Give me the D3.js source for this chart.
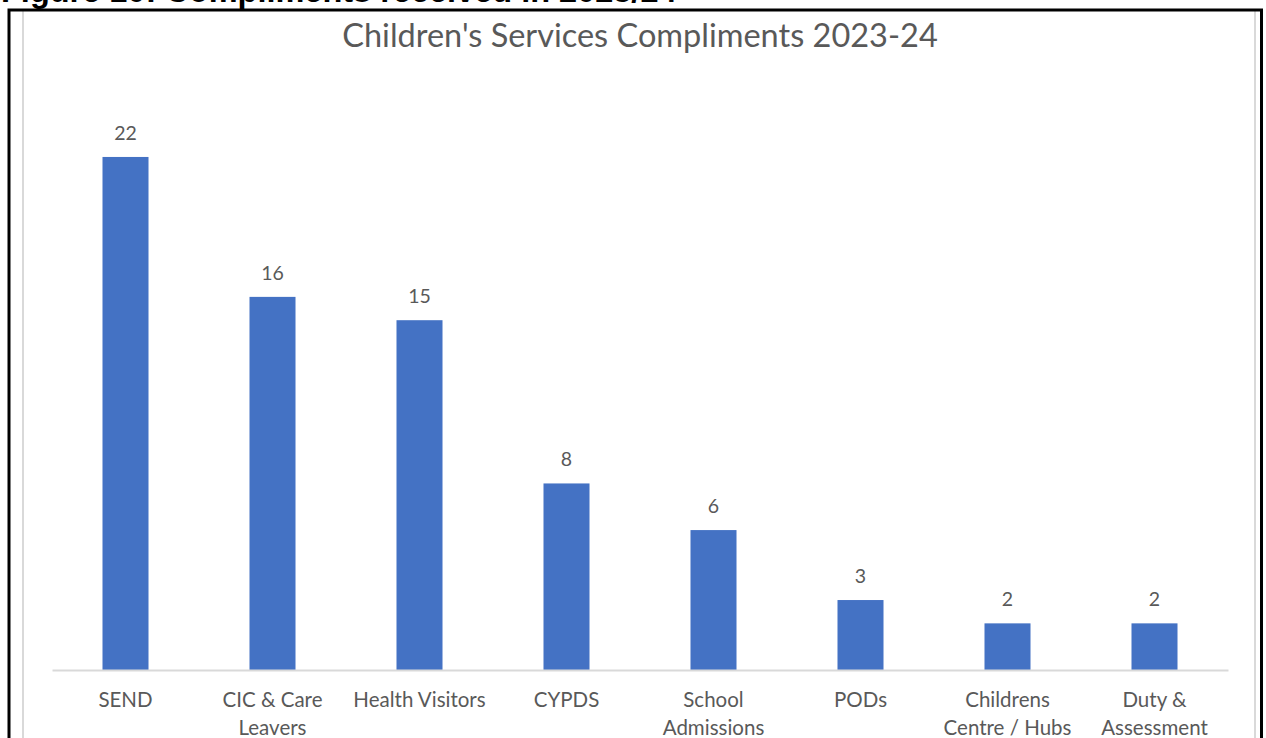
<!DOCTYPE html>
<html>
<head>
<meta charset="utf-8">
<script src="https://cdn.jsdelivr.net/npm/d3@7"></script>
<style>
  html, body { margin: 0; padding: 0; background: #ffffff; }
  svg { display: block; }
</style>
</head>
<body>
<svg id="chart" width="1266" height="738"></svg>
<script>
// ---- data ----
const heading = "Figure 10: Compliments received in 2023/24";
const chartTitle = "Children's Services Compliments 2023-24";
const categories = ["SEND", "CIC & Care Leavers", "Health Visitors", "CYPDS",
  "School Admissions", "PODs", "Childrens Centre / Hubs", "Duty & Assessment"];
const tickLabels = [["SEND"], ["CIC & Care", "Leavers"], ["Health Visitors"], ["CYPDS"],
  ["School", "Admissions"], ["PODs"], ["Childrens", "Centre / Hubs"], ["Duty &", "Assessment"]];
const values = [22, 16, 15, 8, 6, 3, 2, 2];
const yMax = 25;

// ---- drawing ----
const svg = d3.select("#chart");
const W = 1266, H = 738;
const font = "Lato, 'Open Sans', sans-serif";
const textColor = "#595959";

svg.append("rect").attr("width", W).attr("height", H).attr("fill", "#ffffff");

// heading (cut off at top in the reference)
svg.append("text")
  .attr("x", 1).attr("y", 1.5)
  .attr("font-family", "'Liberation Sans', Arial, sans-serif")
  .attr("font-weight", "bold")
  .attr("font-size", 32.5)
  .attr("fill", "#000")
  .text(heading);

// chart area border (light gray)
svg.append("rect")
  .attr("x", 23).attr("y", 10).attr("width", 1232).attr("height", 740)
  .attr("fill", "#fff").attr("stroke", "#D9D9D9").attr("stroke-width", 2);

// outer black frame
svg.append("path")
  .attr("d", "M9,740 V10 H1261.5 V740")
  .attr("fill", "none").attr("stroke", "#000").attr("stroke-width", 3);

const x = d3.scaleBand().domain(categories).range([52, 1228])
  .paddingInner(0.687).paddingOuter(0.3435);
const y = d3.scaleLinear().domain([0, yMax]).range([670, 670 - 25 * 23.32]);

// title
svg.append("text")
  .attr("x", 640).attr("y", 47)
  .attr("text-anchor", "middle")
  .attr("font-family", font)
  .attr("font-size", 32.5)
  .attr("fill", textColor)
  .text(chartTitle);

// bars
svg.append("g").selectAll("rect")
  .data(values)
  .join("rect")
  .attr("x", (d, i) => x(categories[i]))
  .attr("y", d => y(d))
  .attr("width", x.bandwidth())
  .attr("height", d => y(0) - y(d))
  .attr("fill", "#4472C4");

// data labels
svg.append("g").selectAll("text")
  .data(values)
  .join("text")
  .attr("x", (d, i) => x(categories[i]) + x.bandwidth() / 2)
  .attr("y", d => y(d) - 17)
  .attr("text-anchor", "middle")
  .attr("font-family", font)
  .attr("font-size", 19.5)
  .attr("fill", textColor)
  .text(d => d);

// x axis
const axis = svg.append("g")
  .attr("transform", `translate(0,${y(0)})`)
  .call(d3.axisBottom(x).tickSize(0).tickSizeOuter(0).tickFormat(() => ""));
axis.select(".domain").attr("stroke", "#D9D9D9").attr("stroke-width", 2);
axis.selectAll(".tick text").remove();
axis.selectAll(".tick").each(function(d, i) {
  const t = d3.select(this).append("text")
    .attr("text-anchor", "middle")
    .attr("font-family", font)
    .attr("font-size", 20.5)
    .attr("fill", textColor)
    .attr("y", 37);
  tickLabels[i].forEach((line, j) => {
    t.append("tspan").attr("x", 0).attr("dy", j === 0 ? 0 : 28).text(line);
  });
});
</script>
</body>
</html>
